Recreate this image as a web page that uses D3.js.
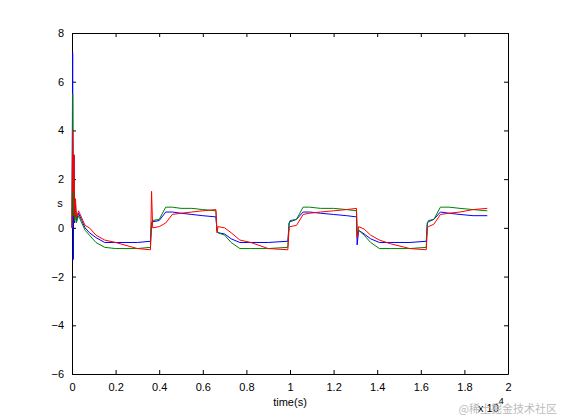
<!DOCTYPE html>
<html><head><meta charset="utf-8">
<script src="https://cdn.jsdelivr.net/npm/d3@7/dist/d3.min.js"></script>
<style>body{margin:0;background:#fff}</style></head>
<body><svg id="c" width="561" height="420"></svg>
<script>
const T = [0,30,60,90,120,160,200,300,450,600,800,1100,1500,2000,3000,3600,
 3650,3700,4000,4300,4600,5000,5500,6000,6600,
 6650,6700,7000,7300,7700,8200,9000,9900,
 9960,10000,10300,10600,10900,11400,12000,12600,13050,
 13080,13150,13400,13700,14100,14600,15500,16250,
 16300,16350,16600,16900,17300,17800,18400,19050];
const blue = [0,7.2,-1.3,3,0.2,1.0,0.3,0.6,0.3,0.0,-0.2,-0.4,-0.6,-0.6,-0.6,-0.55,
 0.2,0.25,0.3,0.65,0.65,0.6,0.55,0.5,0.45,
 -0.1,-0.2,-0.25,-0.45,-0.6,-0.6,-0.6,-0.55,
 0.2,0.25,0.35,0.65,0.65,0.6,0.55,0.5,0.45,
 -0.7,-0.1,-0.25,-0.45,-0.6,-0.6,-0.6,-0.55,
 0.2,0.25,0.35,0.65,0.6,0.55,0.5,0.5];
const green = [0,5.5,0.5,2,0.3,0.8,0.2,0.5,0.2,-0.1,-0.3,-0.6,-0.8,-0.85,-0.85,-0.8,
 0.2,0.3,0.35,0.85,0.85,0.8,0.8,0.75,0.7,
 -0.1,-0.2,-0.3,-0.6,-0.85,-0.85,-0.85,-0.8,
 0.2,0.3,0.35,0.85,0.85,0.8,0.8,0.75,0.7,
 -0.3,-0.1,-0.3,-0.6,-0.85,-0.85,-0.85,-0.8,
 0.2,0.3,0.35,0.85,0.85,0.8,0.75,0.7];
const red = [0,4,1.5,3,0.5,1.2,0.4,0.7,0.4,0.1,0,-0.3,-0.5,-0.6,-0.85,-0.9,
 1.5,0,0.05,0.2,0.55,0.6,0.65,0.7,0.75,
 -0.2,0.05,0,-0.2,-0.5,-0.6,-0.85,-0.9,
 0,0.05,0.1,0.55,0.6,0.65,0.7,0.75,0.8,
 -0.4,0.05,-0.05,-0.3,-0.5,-0.65,-0.85,-0.9,
 0,0.05,0.15,0.55,0.6,0.65,0.75,0.8];
const xTicks = [0,2000,4000,6000,8000,10000,12000,14000,16000,18000,20000];
const xTickLabels = ["0","0.2","0.4","0.6","0.8","1","1.2","1.4","1.6","1.8","2"];
const yTicks = [-6,-4,-2,0,2,4,6,8];

const L=72,R=508,Tp=33,B=374;
const svg=d3.select("#c");
const x=d3.scaleLinear().domain([0,20000]).range([L,R]);
const y=d3.scaleLinear().domain([-6,8]).range([B,Tp]);
const font="Liberation Sans, Arial, sans-serif";
const g=svg.append("g").attr("font-family",font).attr("font-size",11);

function ax(gen,tr){const a=g.append("g").attr("transform",tr).call(gen);
 a.select(".domain").attr("stroke","#000");a.selectAll(".tick line").attr("stroke","#000");
 a.selectAll("text").attr("fill","#000").attr("font-family",font).attr("font-size",11);return a;}
ax(d3.axisBottom(x).tickValues(xTicks).tickSizeInner(-4).tickSizeOuter(0).tickPadding(9).tickFormat((d,i)=>xTickLabels[i]),`translate(0,${B})`);
ax(d3.axisTop(x).tickValues(xTicks).tickSizeInner(-4).tickSizeOuter(0).tickFormat(""),`translate(0,${Tp})`);
ax(d3.axisLeft(y).tickValues(yTicks).tickSizeInner(-4).tickSizeOuter(0).tickPadding(8),`translate(${L},0)`);
ax(d3.axisRight(y).tickValues(yTicks).tickSizeInner(-4).tickSizeOuter(0).tickFormat(""),`translate(${R},0)`);

const line=d3.line().x((d,i)=>x(T[i])).y(d=>y(d));
[[blue,"#0000ff"],[green,"#008000"],[red,"#ff0000"]].forEach(([s,c])=>{
 svg.append("path").datum(s).attr("d",line).attr("fill","none").attr("stroke",c).attr("stroke-width",1);
});

g.append("text").attr("x",(L+R)/2).attr("y",406).attr("text-anchor","middle").text("time(s)");
g.append("text").attr("x",60).attr("y",207).attr("text-anchor","middle").text("s");
const e=g.append("text").attr("x",478).attr("y",412);
e.append("tspan").text("x 10");
e.append("tspan").attr("dy",-8).attr("font-size",9).text("4");
g.append("text").attr("x",557).attr("y",413).attr("text-anchor","end").attr("fill","#bbb").attr("font-family","Noto Sans CJK SC").attr("font-size",11).text("@稀土掘金技术社区");
</script></body></html>
